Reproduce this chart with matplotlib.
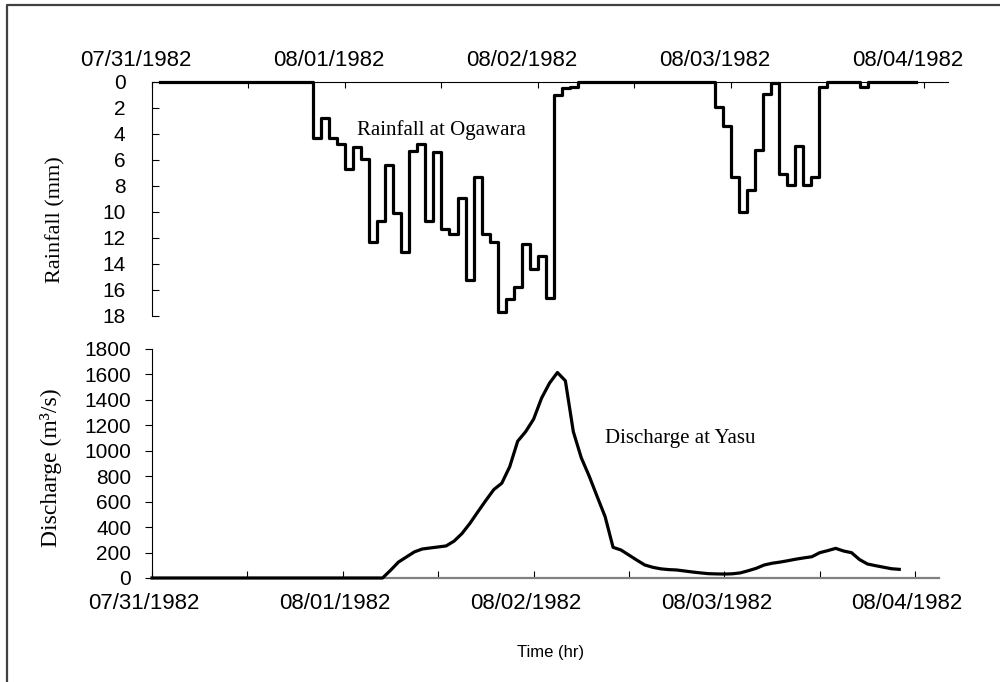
import numpy as np
import matplotlib
matplotlib.use("Agg")
import matplotlib.pyplot as plt
from matplotlib.transforms import ScaledTranslation
from matplotlib.lines import Line2D

# hourly rainfall at Ogawara (mm), hours 1..95 (value holds for [h, h+1))
rain_hours = list(range(1, 96))
rain_mm = ([0.0] * 19 +
           [4.3, 2.8, 4.3, 4.8, 6.7, 5.0, 5.9, 12.3, 10.7, 6.4, 10.1, 13.1, 5.3,
            4.8, 10.7, 5.4, 11.3, 11.7, 8.9, 15.2, 7.3, 11.7, 12.3, 17.7, 16.7,
            15.8, 12.5, 14.4, 13.4, 16.6, 1.0, 0.5, 0.4] +
           [0.0] * 17 +
           [1.9, 3.4, 7.3, 10.0, 8.3, 5.2, 0.9, 0.1, 7.1, 7.9, 4.9, 7.9, 7.3, 0.4] +
           [0.0] * 4 + [0.4] + [0.0] * 7)

# hourly discharge at Yasu (m3/s), hours 0..94
q_hours = list(range(0, 95))
q_m3s = ([0] * 30 +
         [60, 125, 165, 205, 228, 236, 244, 252, 290, 350, 430, 521, 610, 695,
          745, 875, 1075, 1150, 1248, 1413, 1531, 1615, 1550, 1150, 945, 800,
          640, 482, 241, 220, 180, 140, 102, 84, 72, 66, 63, 55, 47, 40, 34, 32,
          31, 33, 40, 57, 76, 102, 116, 125, 136, 148, 158, 167, 199, 215, 233,
          212, 199, 145, 110, 97, 85, 73, 68])

day_ticks = [0, 24, 48, 72, 96]
day_labels = ["07/31/1982", "08/01/1982", "08/02/1982", "08/03/1982", "08/04/1982"]
all_ticks = list(range(0, 97, 12))

sans = "Liberation Sans"
serif = "Liberation Serif"

fig = plt.figure(figsize=(10, 6.82), dpi=100)

# ---- rainfall panel (inverted) ----
ax1 = fig.add_axes([0.152, 0.5367, 0.796, 0.3431])
ax1.step(rain_hours, rain_mm, where="post", color="black", lw=2.3, clip_on=False, zorder=3)
ax1.set_xlim(0, 99)
ax1.set_ylim(18, 0)
ax1.set_yticks(range(0, 19, 2))
ax1.spines["right"].set_visible(False)
ax1.spines["bottom"].set_visible(False)
ax1.spines["top"].set_linewidth(0.8)
ax1.spines["left"].set_linewidth(0.8)
ax1.xaxis.tick_top()
ax1.set_xticks(all_ticks)
ax1.set_xticklabels([day_labels[day_ticks.index(t)] if t in day_ticks else "" for t in all_ticks])
ax1.tick_params(axis="x", direction="in", length=4, width=0.8, pad=8, labelsize=16)
ax1.tick_params(axis="y", direction="in", length=5, width=0.8, pad=19, labelsize=15)
for lab in ax1.get_xticklabels():
    lab.set_transform(lab.get_transform() + ScaledTranslation(-0.16, 0, fig.dpi_scale_trans))
for lab in ax1.get_xticklabels() + ax1.get_yticklabels():
    lab.set_fontfamily(sans)
ax1.set_ylabel("Rainfall (mm)", family=serif, fontsize=16)
ax1.yaxis.set_label_coords(-0.109, 0.41)
ax1.text(25.5, 3.7, "Rainfall at Ogawara", family=serif, fontsize=15, ha="left", va="center")

# ---- discharge panel ----
ax2 = fig.add_axes([0.152, 0.1525, 0.787, 0.3358])
ax2.plot(q_hours, q_m3s, color="black", lw=2.3, clip_on=False, zorder=3)
ax2.set_xlim(0, 99)
ax2.set_ylim(0, 1800)
ax2.set_yticks(range(0, 1801, 200))
ax2.spines["right"].set_visible(False)
ax2.spines["top"].set_visible(False)
ax2.spines["left"].set_linewidth(0.8)
ax2.spines["bottom"].set_linewidth(1.6)
ax2.spines["bottom"].set_color("#808080")
ax2.set_xticks(all_ticks)
ax2.set_xticklabels([day_labels[day_ticks.index(t)] if t in day_ticks else "" for t in all_ticks])
ax2.tick_params(axis="x", direction="in", length=5, width=0.8, pad=11, labelsize=16)
ax2.tick_params(axis="y", direction="out", length=5, width=0.8, pad=10, labelsize=15)
for lab in ax2.get_xticklabels():
    lab.set_transform(lab.get_transform() + ScaledTranslation(-0.08, 0, fig.dpi_scale_trans))
for lab in ax2.get_xticklabels() + ax2.get_yticklabels():
    lab.set_fontfamily(sans)
ax2.set_ylabel("Discharge (m\u00b3/s)", family=serif, fontsize=17)
ax2.yaxis.set_label_coords(-0.114, 0.48)
ax2.text(57.0, 1100, "Discharge at Yasu", family=serif, fontsize=15, ha="left", va="center")

fig.text(0.551, 1 - 653 / 682, "Time (hr)", family=sans, fontsize=12, ha="center", va="center")

# outer frame
fig.add_artist(Line2D([0.007, 0.007, 1.0], [0.0, 1 - 5 / 682, 1 - 5 / 682],
                      transform=fig.transFigure, color="#404040", lw=1.6))

fig.savefig("out.png", dpi=100)
